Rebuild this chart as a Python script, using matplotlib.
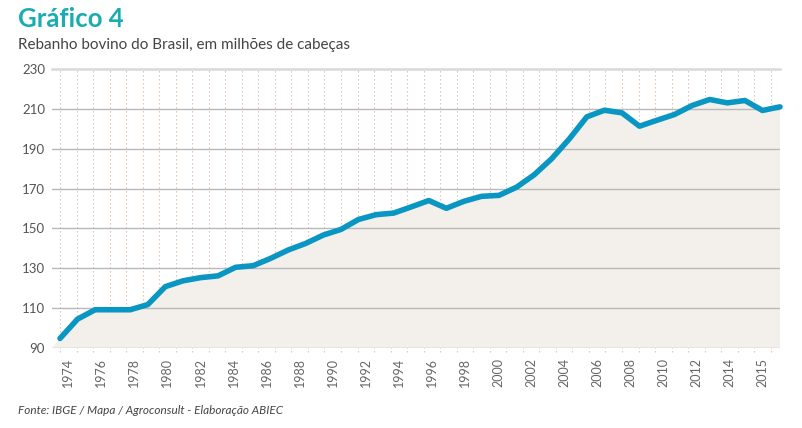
import numpy as np
import matplotlib
matplotlib.use('Agg')
import matplotlib.pyplot as plt

plt.rcParams['font.family'] = ['Lato', 'DejaVu Sans']

# rebanho bovino, milhoes de cabecas
years = list(range(1974, 2016))
herd = [94.8, 104.5, 109.2, 109.2, 109.2, 111.8, 120.8, 123.7, 125.3, 126.2,
        130.5, 131.3, 135.0, 139.2, 142.5, 146.7, 149.5, 154.5, 156.9, 157.7,
        160.8, 164.0, 160.1, 163.6, 166.1, 166.6, 170.7, 176.9, 185.0, 194.9,
        206.0, 209.3, 208.0, 201.3, 204.3, 207.2, 211.7, 214.7, 213.0, 214.2,
        209.2, 211.0]

y_ticks = [90, 110, 130, 150, 170, 190, 210, 230]
x_labels = ['1974', '1976', '1978', '1980', '1982', '1984', '1986', '1988',
            '1990', '1992', '1994', '1996', '1998', '2000', '2002', '2004',
            '2006', '2008', '2010', '2012', '2014', '2015']
label_slots = list(range(0, 43, 2))

line_color = '#0a96c2'
fill_color = '#f3f0eb'

fig = plt.figure(figsize=(8.02, 4.28), dpi=100)
ax = fig.add_axes([52/802, 80/428, 728/802, 279/428])

x0 = years[0] - 8/17.56
ax.set_xlim(x0, years[-1])
ax.set_ylim(90, 230)

# category grid of the original (slightly narrower than the data spacing)
slot = 0.9413
grid_x = years[0] + np.arange(44) * slot
ax.vlines(grid_x, -0.015, 1, transform=ax.get_xaxis_transform(),
          colors='#dcbfab', linestyles=(0, (1.2, 2.4)), linewidth=0.8,
          clip_on=False, zorder=1)

for v in y_ticks:
    if v == 230:
        ax.axhline(v, color='#d9d9d9', lw=1.8, zorder=1, clip_on=False)
    else:
        ax.axhline(v, color='#b8b8b8', lw=1.0, zorder=3)

ax.fill([x0] + years + [years[-1]], [90] + herd + [90],
        color=fill_color, lw=0, zorder=2)
ax.plot(years, herd, color=line_color, lw=4, solid_capstyle='round',
        solid_joinstyle='round', clip_on=False, zorder=4)

ax.set_yticks(y_ticks)
ax.set_yticklabels([str(v) for v in y_ticks], fontsize=9.5, color='#555555')
ax.set_xticks(years[0] + (np.array(label_slots) + 0.5) * slot)
ax.set_xticklabels(x_labels, rotation=90, fontsize=9, color='#666666')
ax.tick_params(axis='both', length=0)
ax.tick_params(axis='y', pad=5)
ax.tick_params(axis='x', pad=7)
for s in ax.spines.values():
    s.set_visible(False)

fig.text(18/802, 1 - 27/428, 'Gráfico 4', fontsize=18.5, fontweight='bold',
         color='#1aacb2', va='baseline')
fig.text(18/802, 1 - 49.5/428, 'Rebanho bovino do Brasil, em milhões de cabeças',
         fontsize=11, color='#444444', va='baseline')
fig.text(18/802, 1 - 414/428, 'Fonte: IBGE / Mapa / Agroconsult - Elaboração ABIEC',
         fontsize=8.5, style='italic', color='#444444', va='baseline')

fig.savefig('out.png', dpi=100)
